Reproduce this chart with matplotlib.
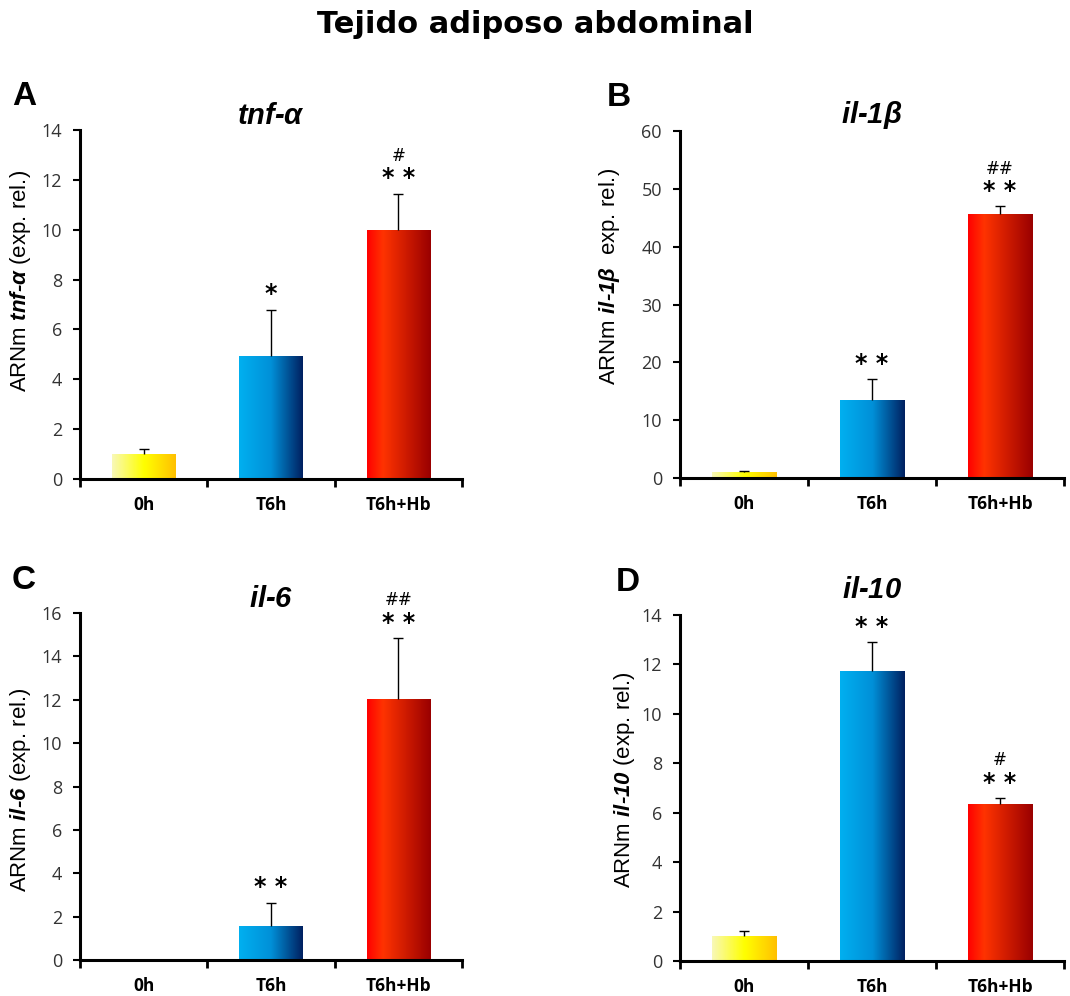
import numpy as np
import matplotlib
matplotlib.use("Agg")
import matplotlib.pyplot as plt
from matplotlib.colors import LinearSegmentedColormap

plt.rcParams['font.family'] = ['Liberation Sans', 'DejaVu Sans']
plt.rcParams['mathtext.fontset'] = 'custom'
plt.rcParams['mathtext.rm'] = 'Liberation Sans'
plt.rcParams['mathtext.it'] = 'Liberation Sans:italic'
plt.rcParams['mathtext.bf'] = 'Liberation Sans:bold'
plt.rcParams['mathtext.bfit'] = 'Liberation Sans:bold:italic'

groups = ["0h", "T6h", "T6h+Hb"]

tnf_mean = [1.0, 4.95, 10.0]
tnf_err = [0.2, 1.85, 1.45]
il1b_mean = [1.0, 13.5, 45.7]
il1b_err = [0.3, 3.6, 1.3]
il6_mean = [0.0, 1.55, 12.05]
il6_err = [0.0, 1.1, 2.8]
il10_mean = [1.0, 11.75, 6.35]
il10_err = [0.2, 1.15, 0.25]

tnf_marks = ["", "*", "**"]
tnf_hash = ["", "", "#"]
il1b_marks = ["", "**", "**"]
il1b_hash = ["", "", "##"]
il6_marks = ["", "**", "**"]
il6_hash = ["", "", "##"]
il10_marks = ["", "**", "**"]
il10_hash = ["", "", "#"]

cmaps = [
    LinearSegmentedColormap.from_list("yel", ["#f8f8b8", "#ffff00", "#ffc000"]),
    LinearSegmentedColormap.from_list("blu", ["#00b0f0", "#0090d8", "#002060"]),
    LinearSegmentedColormap.from_list("red", [(0, "#ff0000"), (0.25, "#ff3300"), (1, "#990000")]),
]

grad = np.linspace(0, 1, 256).reshape(1, -1)


def panel(ax, means, errs, marks, hashes, ymax, step, title, ylab, letter, lx,
          ylab_pos, tpad):
    bars = ax.bar(range(3), means, width=0.5, color="none", edgecolor="none", zorder=2)
    for i, b in enumerate(bars):
        if means[i] <= 0:
            continue
        x0, w, h = b.get_x(), b.get_width(), b.get_height()
        im = ax.imshow(grad, cmap=cmaps[i], aspect="auto", extent=[x0, x0 + w, 0, h],
                       zorder=2, interpolation="bicubic")
        im.set_clip_path(b)
        top = means[i] + errs[i]
        if errs[i] > 0:
            ax.vlines(i, means[i], top, color="black", lw=1, zorder=3)
            ax.hlines(top, i - 0.04, i + 0.04, color="black", lw=1, zorder=3)
        if marks[i]:
            ax.annotate(" ".join(marks[i]), (i, top), xytext=(0, 11), textcoords="offset points",
                        ha="center", va="center", fontsize=17, fontweight="bold",
                        family="DejaVu Sans")
        if hashes[i]:
            ax.annotate(hashes[i], (i, top), xytext=(0, 27), textcoords="offset points",
                        ha="center", va="center", fontsize=12, family="DejaVu Sans")
    ax.set_xlim(-0.5, 2.5)
    ax.set_ylim(0, ymax)
    ax.set_yticks(np.arange(0, ymax + 0.1, step))
    ax.set_xticks([-0.5, 0.5, 1.5, 2.5])
    ax.set_xticklabels([])
    ax.set_xticks([0, 1, 2], minor=True)
    ax.set_xticklabels(groups, minor=True, fontweight="bold", fontsize=12.5, family="Open Sans")
    ax.tick_params(axis="x", which="minor", length=0, pad=12)
    ax.tick_params(axis="x", which="major", length=6, width=2, direction="out")
    ax.tick_params(axis="y", length=5, width=1.5, direction="out", labelsize=13,
                   labelcolor="#333333", pad=8)
    for lab in ax.get_yticklabels():
        lab.set_family("Open Sans")
    ax.spines["top"].set_visible(False)
    ax.spines["right"].set_visible(False)
    ax.spines["left"].set_linewidth(2.2)
    ax.spines["bottom"].set_linewidth(2.2)
    ax.set_title(r"$\mathbfit{" + title + "}$", fontsize=21, pad=tpad)
    ax.set_ylabel(ylab, fontsize=16)
    ax.yaxis.set_label_coords(*ylab_pos)
    ax.text(lx, 1.095, letter, transform=ax.transAxes, fontsize=24, fontweight="bold",
            ha="left", va="center")


fig = plt.figure(figsize=(10.7, 9.96), dpi=100)
fig.text(0.5, 0.975, "Tejido adiposo abdominal", ha="center", va="center",
         fontsize=22, fontweight="bold", family="DejaVu Sans")

axA = fig.add_axes([0.0748, 0.519, 0.357, 0.3505])
axB = fig.add_axes([0.6355, 0.520, 0.359, 0.3485])
axC = fig.add_axes([0.0748, 0.0361, 0.357, 0.3484])
axD = fig.add_axes([0.6355, 0.0351, 0.359, 0.3474])

panel(axA, tnf_mean, tnf_err, tnf_marks, tnf_hash, 14, 2, "tnf‐α",
      r"ARNm $\mathbfit{tnf‐α}$ (exp. rel.)", "A", -0.178, (-0.123, 0.567), 4)
panel(axB, il1b_mean, il1b_err, il1b_marks, il1b_hash, 60, 10, "il‐1β",
      r"ARNm $\mathbfit{il‐1β}$  exp. rel.)", "B", -0.19, (-0.151, 0.582), 4)
panel(axC, il6_mean, il6_err, il6_marks, il6_hash, 16, 2, "il‐6",
      r"ARNm $\mathbfit{il‐6}$ (exp. rel.)", "C", -0.178, (-0.123, 0.49), 4)
panel(axD, il10_mean, il10_err, il10_marks, il10_hash, 14, 2, "il‐10",
      r"ARNm $\mathbfit{il‐10}$ (exp. rel.)", "D", -0.168, (-0.112, 0.526), 12)

fig.savefig("out.png", dpi=100)
